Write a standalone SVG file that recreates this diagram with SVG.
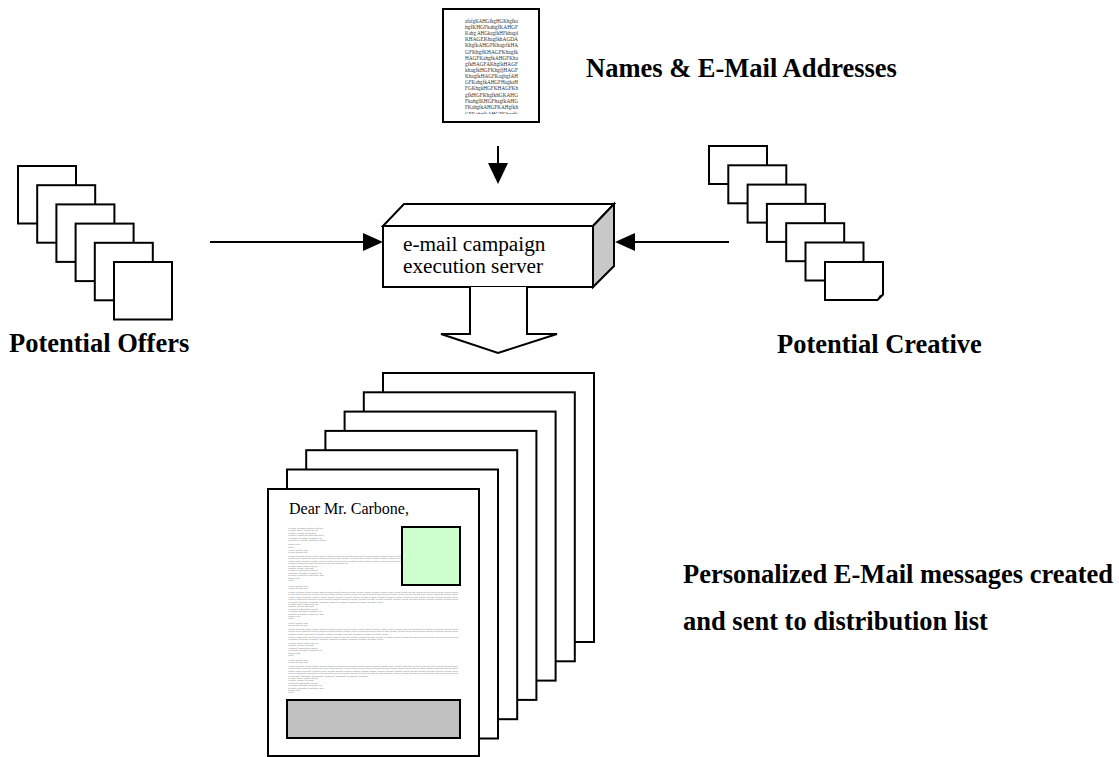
<svg xmlns="http://www.w3.org/2000/svg" width="1119" height="757" viewBox="0 0 1119 757">
  <style>
    .sheet { fill: #ffffff; stroke: #000000; stroke-width: 2; }
    .line { fill: none; stroke: #000000; stroke-width: 2; }
    .head { fill: #000000; stroke: none; }
    .label { font-family: "Liberation Serif", "Times New Roman", serif; font-weight: bold; font-size: 26.5px; fill: #000000; }
    .srv { font-family: "Liberation Serif", "Times New Roman", serif; font-size: 21.3px; fill: #000000; }
    .list { font-family: "Liberation Serif", "Times New Roman", serif; font-size: 5.6px; fill: #333333; }
    .dear { font-family: "Liberation Serif", "Times New Roman", serif; font-size: 16px; fill: #000000; }
    .fine { font-family: "Liberation Serif", "Times New Roman", serif; font-size: 2.2px; fill: #777777; }
  </style>
  <defs>
    <clipPath id="listClip">
      <rect x="445" y="11" width="92" height="103"/>
    </clipPath>
  </defs>

  <rect width="1119" height="757" fill="#ffffff"/>

  <!-- Address list document -->
  <g id="address-list">
    <rect class="sheet" x="443" y="9" width="96" height="113"/>
    <g clip-path="url(#listClip)">
      <text class="list" x="465" y="22.7" textLength="53" lengthAdjust="spacingAndGlyphs">afafgKAHGfkgHGKhgfka</text>
      <text class="list" x="465" y="28.9" textLength="53" lengthAdjust="spacingAndGlyphs">hgfKHGFkahgfKAHGF</text>
      <text class="list" x="465" y="35.0" textLength="53" lengthAdjust="spacingAndGlyphs">Kahg AHGkagfkHFkhagd</text>
      <text class="list" x="465" y="41.2" textLength="53" lengthAdjust="spacingAndGlyphs">KHAGEKhagfkhAGDA</text>
      <text class="list" x="465" y="47.3" textLength="53" lengthAdjust="spacingAndGlyphs">KhgfkAHGFKhagrfkHA</text>
      <text class="list" x="465" y="53.5" textLength="53" lengthAdjust="spacingAndGlyphs">GFKhgfKHAGFKhagfk</text>
      <text class="list" x="465" y="59.6" textLength="53" lengthAdjust="spacingAndGlyphs">HAGFKahgfkAHGFKha</text>
      <text class="list" x="465" y="65.8" textLength="53" lengthAdjust="spacingAndGlyphs">gfkHAGFAKhgfkHAGF</text>
      <text class="list" x="465" y="71.9" textLength="53" lengthAdjust="spacingAndGlyphs">khagfkHGFKhgfjHAGF</text>
      <text class="list" x="465" y="78.1" textLength="53" lengthAdjust="spacingAndGlyphs">KhagfkHAGFKagbgfAH</text>
      <text class="list" x="465" y="84.2" textLength="53" lengthAdjust="spacingAndGlyphs">GFKahgfkAHGFHagkaH</text>
      <text class="list" x="465" y="90.4" textLength="53" lengthAdjust="spacingAndGlyphs">FGKhgkHGFKHAGFKh</text>
      <text class="list" x="465" y="96.5" textLength="53" lengthAdjust="spacingAndGlyphs">gfkHGFKhgfkhGKAHG</text>
      <text class="list" x="465" y="102.7" textLength="53" lengthAdjust="spacingAndGlyphs">FkahgfKHGFhagfkAHG</text>
      <text class="list" x="465" y="108.8" textLength="53" lengthAdjust="spacingAndGlyphs">FKahgfkAHGFKAHgfkh</text>
      <text class="list" x="465" y="115.5" textLength="53" lengthAdjust="spacingAndGlyphs">GFKahgfkAHGFKhagfk</text>
    </g>
  </g>
  <text id="label-names" class="label" x="586" y="77">Names &amp; E-Mail Addresses</text>

  <!-- Offer sheets -->
  <g id="offers">
    <rect class="sheet" x="18" y="166" width="58" height="57.5"/>
    <rect class="sheet" x="37.2" y="185.2" width="58" height="57.5"/>
    <rect class="sheet" x="56.4" y="204.4" width="58" height="57.5"/>
    <rect class="sheet" x="75.6" y="223.6" width="58" height="57.5"/>
    <rect class="sheet" x="94.8" y="242.8" width="58" height="57.5"/>
    <rect class="sheet" x="114" y="262" width="58" height="57.5"/>
  </g>
  <text id="label-offers" class="label" x="9" y="352">Potential Offers</text>

  <!-- Creative sheets -->
  <g id="creative">
    <rect class="sheet" x="709" y="146" width="58" height="38"/>
    <rect class="sheet" x="728.3" y="165.3" width="58" height="38"/>
    <rect class="sheet" x="747.6" y="184.6" width="58" height="38"/>
    <rect class="sheet" x="766.9" y="203.9" width="58" height="38"/>
    <rect class="sheet" x="786.2" y="223.2" width="58" height="38"/>
    <rect class="sheet" x="805.5" y="242.5" width="58" height="38"/>
    <path class="sheet" d="M825,262 H883 V294.5 L877.5,300 H825 Z"/>
    <path class="head" d="M877.5,300 L879.5,295.5 L883,294.5 Z"/>
  </g>
  <text id="label-creative" class="label" x="777" y="353">Potential Creative</text>

  <!-- Campaign execution server -->
  <g id="server">
    <polygon class="sheet" points="383,226 404,204 614,204 593,226"/>
    <polygon class="sheet" points="593,226 614,204 614,266 593,287" style="fill:#c8c8c8"/>
    <rect class="sheet" x="383" y="226" width="210" height="61"/>
    <text class="srv" x="403" y="250.5">e-mail campaign</text>
    <text class="srv" x="403" y="273">execution server</text>
  </g>

  <!-- Connectors -->
  <g id="connectors">
    <line class="line" x1="498" y1="146" x2="498" y2="166"/>
    <polygon class="head" points="488,163 508,163 498,184"/>
    <line class="line" x1="210" y1="242" x2="366" y2="242"/>
    <polygon class="head" points="363,233 383,242 363,251"/>
    <line class="line" x1="729" y1="242" x2="632" y2="242"/>
    <polygon class="head" points="635,233 615,242 635,251"/>
    <path class="sheet" d="M470,287 V334 H441 L498,353 L557,334 H527 V287"/>
  </g>

  <!-- Personalized messages -->
  <g id="messages">
    <rect class="sheet" x="383" y="373" width="211" height="269"/>
    <rect class="sheet" x="363.8" y="392.3" width="211" height="269"/>
    <rect class="sheet" x="344.6" y="411.6" width="211" height="269"/>
    <rect class="sheet" x="325.4" y="430.9" width="211" height="269"/>
    <rect class="sheet" x="306.2" y="450.2" width="211" height="269"/>
    <rect class="sheet" x="287" y="469.5" width="211" height="269"/>
    <rect class="sheet" x="268" y="489" width="211" height="267"/>
    <text class="dear" x="289" y="514">Dear Mr. Carbone,</text>
    <rect class="sheet" x="402" y="527" width="58" height="58" style="fill:#ccffcc"/>
    <rect class="sheet" x="287" y="700" width="173" height="38" style="fill:#c0c0c0"/>
    <g id="body-copy">
      <text class="fine" x="288" y="529" textLength="35" lengthAdjust="spacingAndGlyphs">Hfhdjs kfjdhsk dhfksj dhfkjs</text>
      <text class="fine" x="288" y="531.4" textLength="30" lengthAdjust="spacingAndGlyphs">Kdjfh skdjf hskdjfh sk</text>
      <text class="fine" x="288" y="533.8" textLength="28" lengthAdjust="spacingAndGlyphs">Jdhfk sjdhf ksjdhfk</text>
      <text class="fine" x="288" y="536.2" textLength="36" lengthAdjust="spacingAndGlyphs">Hskdjf hskdjfh skdjfhs kdjf</text>
      <text class="fine" x="288" y="538.6" textLength="34" lengthAdjust="spacingAndGlyphs">Fkdjhs fkjdhs fkjhdsf kj</text>
      <text class="fine" x="288" y="541" textLength="38" lengthAdjust="spacingAndGlyphs">Kjdhfs kjdhfksj dhfkjsd hfkjs</text>
      <text class="fine" x="288" y="545" textLength="12" lengthAdjust="spacingAndGlyphs">Mgsaj sdfg</text>
      <text class="fine" x="288" y="547.5" textLength="6" lengthAdjust="spacingAndGlyphs">Sdkf</text>
      <text class="fine" x="288" y="551" textLength="20" lengthAdjust="spacingAndGlyphs">Hdjfk sjdhfk sjdh</text>
      <text class="fine" x="288" y="553.4" textLength="20" lengthAdjust="spacingAndGlyphs">Ksjdh fksjdh fksj</text>
      <text class="fine" x="288" y="557" textLength="113" lengthAdjust="spacingAndGlyphs">Hfhdjs kfjdhsk dhfksj dhfkjs hdkfjh sdkjfh skdjfh skdjfh ksjdhf kjsdhf kjsdhf kjsdhfk jsdhfk jsdhf kjsdhf</text>
      <text class="fine" x="288" y="559.4" textLength="113" lengthAdjust="spacingAndGlyphs">Kdjfh skdjf hskdjfh skdjfh skdjfh ksdjfh ksjdhf kjsdhf kjsdh fkjsdh fkjsdh fkjsdh fkjshd fkjshd fkjsh</text>
      <text class="fine" x="288" y="561.8" textLength="113" lengthAdjust="spacingAndGlyphs">Jdhfk sjdhf ksjdhfk sjdhfk sjdhf ksjdhf ksjdhf ksjdhf kjsdhf kjsdhf kjshdf kjshdf kjsdhf kjsdhf kjsdh</text>
      <text class="fine" x="288" y="564.2" textLength="60" lengthAdjust="spacingAndGlyphs">Hskdjf hskdjfh skdjfhs kdjfh skdjfh skdjfh sk</text>
      <text class="fine" x="288" y="566.6" textLength="30" lengthAdjust="spacingAndGlyphs">Kdjfh skdjf hskdjfh sk</text>
      <text class="fine" x="288" y="569" textLength="26" lengthAdjust="spacingAndGlyphs">Jdhfk sjdhf ksjdhf</text>
      <text class="fine" x="288" y="571.4" textLength="30" lengthAdjust="spacingAndGlyphs">Hskdjf hskdjfh skdjf</text>
      <text class="fine" x="288" y="573.8" textLength="34" lengthAdjust="spacingAndGlyphs">Fkdjhs fkjdhs fkjhdsf kj</text>
      <text class="fine" x="288" y="576.2" textLength="36" lengthAdjust="spacingAndGlyphs">Kjdhfs kjdhfksj dhfkjsd hfk</text>
      <text class="fine" x="288" y="578.6" textLength="12" lengthAdjust="spacingAndGlyphs">Mgsaj sdfg</text>
      <text class="fine" x="288" y="581" textLength="6" lengthAdjust="spacingAndGlyphs">Sdkf</text>
      <text class="fine" x="288" y="587" textLength="20" lengthAdjust="spacingAndGlyphs">Hdjfk sjdhfk sjdh</text>
      <text class="fine" x="288" y="589.4" textLength="20" lengthAdjust="spacingAndGlyphs">Ksjdh fksjdh fksj</text>
      <text class="fine" x="288" y="593" textLength="170" lengthAdjust="spacingAndGlyphs">Hfhdjs kfjdhsk dhfksj dhfkjs hdkfjh sdkjfh skdjfh skdjfh ksjdhf kjsdhf kjsdhf kjsdhfk jsdhfk jsdhf kjsdhf kjsdh fkjsdh fkjsdh fkjsdh fkjsh dfkjsh dfkjsh dfkjsh</text>
      <text class="fine" x="288" y="595.4" textLength="170" lengthAdjust="spacingAndGlyphs">Kdjfh skdjf hskdjfh skdjfh skdjfh ksdjfh ksjdhf kjsdhf kjsdh fkjsdh fkjsdh fkjsdh fkjshd fkjshd fkjsh dfkjsh dfkjsh dfkjs hdfkjs hdfkjsh dfkjsh dfkjs</text>
      <text class="fine" x="288" y="597.8" textLength="170" lengthAdjust="spacingAndGlyphs">Jdhfk sjdhf ksjdhfk sjdhfk sjdhf ksjdhf ksjdhf ksjdhf kjsdhf kjsdhf kjshdf kjshdf kjsdhf kjsdhf kjsdh fkjsdh fkjshd fkjshd fkjsdh fkjsdh fkjsd</text>
      <text class="fine" x="288" y="600.2" textLength="170" lengthAdjust="spacingAndGlyphs">Hskdjf hskdjfh skdjfhs kdjfh skdjfh skdjfh skdjfh ksjdhf ksjdhf kjsdhf kjsdhf kjsdhf kjsdhf kjsdh fkjsdh fkjsdh fkjsdh fkjsdh fkjsdh fkjsd</text>
      <text class="fine" x="288" y="602.6" textLength="95" lengthAdjust="spacingAndGlyphs">Fkdjhs fkjdhs fkjhdsf kjhdsf kjhsdf kjhsdf kjhsdf kjhsd fkjhsd fkjh</text>
      <text class="fine" x="288" y="605" textLength="30" lengthAdjust="spacingAndGlyphs">Kdjfh skdjf hskdjfh sk</text>
      <text class="fine" x="288" y="607.4" textLength="26" lengthAdjust="spacingAndGlyphs">Jdhfk sjdhf ksjdhf</text>
      <text class="fine" x="288" y="609.8" textLength="30" lengthAdjust="spacingAndGlyphs">Hskdjf hskdjfh skdjf</text>
      <text class="fine" x="288" y="612.2" textLength="34" lengthAdjust="spacingAndGlyphs">Fkdjhs fkjdhs fkjhdsf kj</text>
      <text class="fine" x="288" y="614.6" textLength="36" lengthAdjust="spacingAndGlyphs">Kjdhfs kjdhfksj dhfkjsd hfk</text>
      <text class="fine" x="288" y="617" textLength="12" lengthAdjust="spacingAndGlyphs">Mgsaj sdfg</text>
      <text class="fine" x="288" y="619.4" textLength="6" lengthAdjust="spacingAndGlyphs">Sdkf</text>
      <text class="fine" x="288" y="624" textLength="20" lengthAdjust="spacingAndGlyphs">Hdjfk sjdhfk sjdh</text>
      <text class="fine" x="288" y="626.4" textLength="20" lengthAdjust="spacingAndGlyphs">Ksjdh fksjdh fksj</text>
      <text class="fine" x="288" y="630" textLength="170" lengthAdjust="spacingAndGlyphs">Hfhdjs kfjdhsk dhfksj dhfkjs hdkfjh sdkjfh skdjfh skdjfh ksjdhf kjsdhf kjsdhf kjsdhfk jsdhfk jsdhf kjsdhf kjsdh fkjsdh fkjsdh fkjsdh fkjsh dfkjsh dfkjsh dfkjsh</text>
      <text class="fine" x="288" y="632.4" textLength="170" lengthAdjust="spacingAndGlyphs">Kdjfh skdjf hskdjfh skdjfh skdjfh ksdjfh ksjdhf kjsdhf kjsdh fkjsdh fkjsdh fkjsdh fkjshd fkjshd fkjsh dfkjsh dfkjsh dfkjs hdfkjs hdfkjsh dfkjsh dfkjs</text>
      <text class="fine" x="288" y="634.8" textLength="100" lengthAdjust="spacingAndGlyphs">Jdhfk sjdhf ksjdhfk sjdhfk sjdhf ksjdhf ksjdhf ksjdhf kjsdhf kjsdhf kjsh</text>
      <text class="fine" x="288" y="638" textLength="170" lengthAdjust="spacingAndGlyphs">Hskdjf hskdjfh skdjfhs kdjfh skdjfh skdjfh skdjfh ksjdhf ksjdhf kjsdhf kjsdhf kjsdhf kjsdhf kjsdh fkjsdh fkjsdh fkjsdh fkjsdh fkjsdh fkjsd</text>
      <text class="fine" x="288" y="640.4" textLength="95" lengthAdjust="spacingAndGlyphs">Fkdjhs fkjdhs fkjhdsf kjhdsf kjhsdf kjhsdf kjhsdf kjhsd fkjhsd fkjh</text>
      <text class="fine" x="288" y="644" textLength="30" lengthAdjust="spacingAndGlyphs">Kdjfh skdjf hskdjfh sk</text>
      <text class="fine" x="288" y="646.4" textLength="26" lengthAdjust="spacingAndGlyphs">Jdhfk sjdhf ksjdhf</text>
      <text class="fine" x="288" y="648.8" textLength="30" lengthAdjust="spacingAndGlyphs">Hskdjf hskdjfh skdjf</text>
      <text class="fine" x="288" y="651.2" textLength="34" lengthAdjust="spacingAndGlyphs">Fkdjhs fkjdhs fkjhdsf kj</text>
      <text class="fine" x="288" y="653.6" textLength="12" lengthAdjust="spacingAndGlyphs">Mgsaj sdfg</text>
      <text class="fine" x="288" y="656" textLength="6" lengthAdjust="spacingAndGlyphs">Sdkf</text>
      <text class="fine" x="288" y="661" textLength="20" lengthAdjust="spacingAndGlyphs">Hdjfk sjdhfk sjdh</text>
      <text class="fine" x="288" y="663.4" textLength="20" lengthAdjust="spacingAndGlyphs">Ksjdh fksjdh fksj</text>
      <text class="fine" x="288" y="667" textLength="170" lengthAdjust="spacingAndGlyphs">Hfhdjs kfjdhsk dhfksj dhfkjs hdkfjh sdkjfh skdjfh skdjfh ksjdhf kjsdhf kjsdhf kjsdhfk jsdhfk jsdhf kjsdhf kjsdh fkjsdh fkjsdh fkjsdh fkjsh dfkjsh dfkjsh dfkjsh</text>
      <text class="fine" x="288" y="669.4" textLength="170" lengthAdjust="spacingAndGlyphs">Kdjfh skdjf hskdjfh skdjfh skdjfh ksdjfh ksjdhf kjsdhf kjsdh fkjsdh fkjsdh fkjsdh fkjshd fkjshd fkjsh dfkjsh dfkjsh dfkjs hdfkjs hdfkjsh dfkjsh dfkjs</text>
      <text class="fine" x="288" y="671.8" textLength="170" lengthAdjust="spacingAndGlyphs">Jdhfk sjdhf ksjdhfk sjdhfk sjdhf ksjdhf ksjdhf ksjdhf kjsdhf kjsdhf kjshdf kjshdf kjsdhf kjsdhf kjsdh fkjsdh fkjshd fkjshd fkjsdh fkjsdh fkjsd</text>
      <text class="fine" x="288" y="674.2" textLength="170" lengthAdjust="spacingAndGlyphs">Hskdjf hskdjfh skdjfhs kdjfh skdjfh skdjfh skdjfh ksjdhf ksjdhf kjsdhf kjsdhf kjsdhf kjsdhf kjsdh fkjsdh fkjsdh fkjsdh fkjsdh fkjsdh fkjsd</text>
      <text class="fine" x="288" y="676.6" textLength="80" lengthAdjust="spacingAndGlyphs">Fkdjhs fkjdhs fkjhdsf kjhdsf kjhsdf kjhsdf kjhsd</text>
      <text class="fine" x="288" y="679" textLength="30" lengthAdjust="spacingAndGlyphs">Kdjfh skdjf hskdjfh sk</text>
      <text class="fine" x="288" y="681.4" textLength="26" lengthAdjust="spacingAndGlyphs">Jdhfk sjdhf ksjdhf</text>
      <text class="fine" x="288" y="683.8" textLength="30" lengthAdjust="spacingAndGlyphs">Hskdjf hskdjfh skdjf</text>
      <text class="fine" x="288" y="686.2" textLength="34" lengthAdjust="spacingAndGlyphs">Fkdjhs fkjdhs fkjhdsf kj</text>
      <text class="fine" x="288" y="688.6" textLength="36" lengthAdjust="spacingAndGlyphs">Kjdhfs kjdhfksj dhfkjsd hfk</text>
      <text class="fine" x="288" y="691" textLength="12" lengthAdjust="spacingAndGlyphs">Mgsaj sdfg</text>
      <text class="fine" x="288" y="693.4" textLength="6" lengthAdjust="spacingAndGlyphs">Sdkf</text>
    </g>
  </g>
  <g id="label-messages">
    <text class="label" x="683" y="583">Personalized E-Mail messages created</text>
    <text class="label" x="683" y="630">and sent to distribution list</text>
  </g>
</svg>
